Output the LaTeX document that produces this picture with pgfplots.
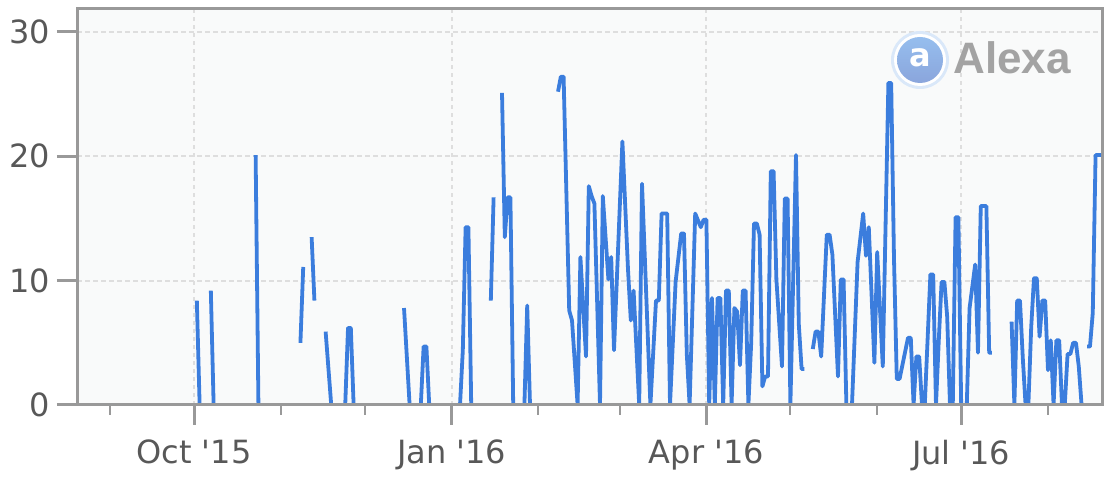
\documentclass[border=0pt]{standalone}
\usepackage{fontspec}
\setmainfont{DejaVu Sans}
\newfontfamily\logofont{Liberation Sans}
\usepackage{pgfplots}
\pgfplotsset{compat=1.18}

\definecolor{axisgray}{RGB}{153,153,153}
\definecolor{gridgray}{RGB}{222,222,222}
\definecolor{plotbg}{RGB}{249,250,250}
\definecolor{labelgray}{RGB}{88,88,88}
\definecolor{rankblue}{RGB}{59,125,221}
\definecolor{logoblue}{RGB}{150,190,238}
\definecolor{logoblue2}{RGB}{138,165,220}

\begin{document}
\begin{tikzpicture}
\begin{axis}[
  scale only axis,
  width=512.5pt,
  height=198pt,
  xmin=-11.8, xmax=354.3,
  ymin=0, ymax=31.85,
  axis background/.style={fill=plotbg},
  axis line style={axisgray, line width=1.5pt},
  xtick={30,122,213,304},
  xticklabels={Oct \textquotesingle15, Jan \textquotesingle16, Apr \textquotesingle16, Jul \textquotesingle16},
  minor xtick={0,61,91,153,182,243,274,335},
  ytick={0,10,20,30},
  xtick pos=left, ytick pos=left,
  tick align=outside,
  major tick length=10pt,
  minor tick length=5pt,
  major tick style={axisgray, line width=1.5pt},
  minor tick style={axisgray, line width=1pt},
  xmajorgrids, ymajorgrids,
  x grid style={gridgray, line width=1pt, dash pattern=on 2pt off 2pt},
  y grid style={gridgray, line width=1pt, dash pattern=on 2.5pt off 1.5pt},
  tick label style={font=\fontsize{16}{19}\selectfont, text=labelgray},
  xticklabel style={yshift=-4pt},
  /pgf/number format/assume math mode=true,
  unbounded coords=jump,
]

% daily rank-change series (days counted from 1 Sep 2015), gaps = no data
\addplot[rankblue, line width=1.9pt, line join=round, no marks] coordinates {
  (31,8.4) (32,0) (33,nan)
  (36,9.2) (37,0) (38,nan)
  (52,20.1) (53,0) (54,nan)
  (68,5.0) (69,11.1) (70,nan)
  (72,13.5) (73,8.4) (74,nan)
  (77,5.9) (79,0) (80,nan)
  (84,0) (85,6.2) (86,6.2) (87,0) (88,nan)
  (105,7.8) (107,0) (108,nan)
  (111,0) (112,4.7) (113,4.7) (114,0) (115,nan)
  (125,0) (126,4.4) (127,14.3) (128,14.3) (129,0) (130,nan)
  (136,8.4) (137,16.7) (138,nan)
  (140,25.1) (141,13.5) (142,16.7) (143,16.7) (144,0) (145,nan)
  (148,0) (149,8.0) (150,0) (151,nan)
  (160,25.2) (161,26.4) (162,26.4) (164,7.6) (165,6.8) (167,0) (168,11.9)
  (170,3.9) (171,17.6) (172,16.8) (173,16.2) (175,0) (176,16.8) (178,10.1)
  (179,11.9) (180,4.4) (183,21.2) (185,10.9) (186,6.8) (187,9.2) (189,0)
  (190,17.8) (191,11.9) (193,0) (195,8.4) (196,8.4) (197,15.4) (199,15.4)
  (200,0) (202,9.9) (204,13.8) (205,13.8) (206,4.1) (207,0) (209,15.4)
  (211,14.3) (212,14.9) (213,14.9) (214,0) (215,8.6) (216,0) (217,8.6)
  (218,8.6) (219,0) (220,9.2) (221,9.2) (222,0) (223,7.8) (224,7.5)
  (225,3.2) (226,9.2) (227,9.2) (228,0) (229,5.0) (230,14.6) (231,14.6)
  (232,13.7) (233,1.5) (234,2.3) (235,2.3) (236,18.8) (237,18.8) (238,10.1)
  (240,3.1) (241,16.6) (242,16.6) (243,0) (245,20.1) (246,6.5) (247,2.9)
  (248,2.9) (249,nan)
  (251,4.5) (252,5.9) (253,5.9) (254,3.9) (256,13.7) (257,13.7) (258,12.1)
  (260,2.3) (261,10.1) (262,10.1) (263,0) (265,0) (267,11.5) (269,15.4)
  (270,12.0) (271,14.3) (273,3.4) (274,12.3) (276,3.1) (278,25.9) (279,25.9)
  (280,11.8) (281,2.1) (282,2.1) (285,5.4) (286,5.4) (287,0) (288,3.9)
  (289,3.9) (290,0) (291,0) (293,10.5) (294,10.5) (295,0) (296,5.2)
  (297,9.9) (298,9.9) (299,7.1) (300,0) (301,0) (302,15.1) (303,15.1)
  (304,0) (306,0) (307,7.8) (309,11.3) (310,4.2) (311,16.0) (313,16.0)
  (314,4.2) (315,4.2) (316,nan)
  (322,6.7) (323,0) (324,8.4) (325,8.4) (326,3.8) (327,0) (328,0) (329,6.2)
  (330,10.2) (331,10.2) (332,5.5) (333,8.4) (334,8.4) (335,2.8) (336,5.2)
  (337,0) (338,5.2) (339,5.2) (340,0) (341,0) (342,4.1) (343,4.1) (344,5.0)
  (345,5.0) (346,3.1) (347,0) (348,nan)
  (349,4.7) (350,4.7) (351,7.4) (352,20.1) (353,20.1) (354,20.1)
};

% bottom axis line back on top of the series
\draw[axisgray, line width=1.5pt] (rel axis cs:0,0) -- (rel axis cs:1,0);
\end{axis}

% Alexa watermark
\fill[logoblue!35] (421.5pt,172.5pt) circle (14.5pt);
\fill[white] (421.5pt,172.5pt) circle (13pt);
\shade[top color=logoblue, bottom color=logoblue2] (421.5pt,172.5pt) circle (11.5pt);
\node[text=white, font=\bfseries\fontsize{16}{16}\selectfont] at (421.5pt,173.5pt) {a};
\node[anchor=west, inner sep=0pt, text=axisgray!90, font=\logofont\bfseries\fontsize{22}{22}\selectfont]
  at (438pt,173.5pt) {Alexa};

\pgfresetboundingbox
\path (-38.5pt,-37.5pt) rectangle (514.5pt,202.5pt);
\end{tikzpicture}
\end{document}
